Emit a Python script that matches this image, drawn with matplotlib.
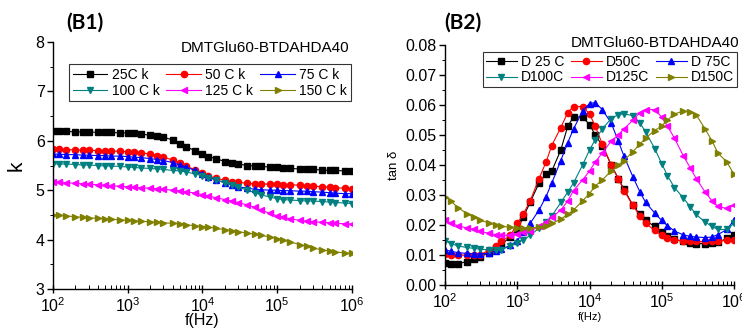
import matplotlib.pyplot as plt
from matplotlib.ticker import LogLocator, MultipleLocator, NullFormatter

plt.rcParams['font.family'] = ['Liberation Sans', 'DejaVu Sans']

freq = [100, 120, 150, 200, 250, 300, 400, 500, 600, 800,
        1e3, 1.2e3, 1.5e3, 2e3, 2.5e3, 3e3, 4e3, 5e3, 6e3, 8e3,
        1e4, 1.2e4, 1.5e4, 2e4, 2.5e4, 3e4, 4e4, 5e4, 6e4, 8e4,
        1e5, 1.2e5, 1.5e5, 2e5, 2.5e5, 3e5, 4e5, 5e5, 6e5, 8e5,
        1e6]

# (B1) dielectric constant k
k_25 = [6.20, 6.19, 6.19, 6.18, 6.18, 6.18, 6.17, 6.17, 6.17, 6.16,
        6.16, 6.15, 6.14, 6.11, 6.09, 6.07, 6.02, 5.94, 5.88, 5.80,
        5.73, 5.68, 5.64, 5.58, 5.55, 5.53, 5.50, 5.49, 5.48, 5.47,
        5.46, 5.45, 5.44, 5.43, 5.42, 5.42, 5.41, 5.40, 5.40, 5.39,
        5.38]
k_50 = [5.83, 5.83, 5.82, 5.82, 5.81, 5.81, 5.80, 5.80, 5.79, 5.79,
        5.78, 5.77, 5.76, 5.73, 5.70, 5.67, 5.61, 5.55, 5.49, 5.41,
        5.34, 5.29, 5.24, 5.20, 5.17, 5.16, 5.14, 5.13, 5.13, 5.12,
        5.12, 5.11, 5.11, 5.10, 5.09, 5.08, 5.07, 5.06, 5.05, 5.04,
        5.03]
k_75 = [5.73, 5.73, 5.72, 5.72, 5.71, 5.71, 5.70, 5.70, 5.69, 5.69,
        5.68, 5.67, 5.66, 5.64, 5.62, 5.60, 5.56, 5.51, 5.47, 5.40,
        5.33, 5.27, 5.21, 5.15, 5.10, 5.07, 5.04, 5.02, 5.01, 5.00,
        5.00, 4.99, 4.99, 4.98, 4.98, 4.97, 4.96, 4.95, 4.94, 4.93,
        4.93]
k_100 = [5.54, 5.53, 5.53, 5.52, 5.51, 5.51, 5.50, 5.49, 5.49, 5.48,
         5.47, 5.46, 5.45, 5.44, 5.43, 5.42, 5.40, 5.39, 5.37, 5.33,
         5.29, 5.25, 5.21, 5.15, 5.10, 5.06, 5.00, 4.95, 4.91, 4.86,
         4.83, 4.81, 4.80, 4.79, 4.78, 4.78, 4.77, 4.76, 4.75, 4.74,
         4.73]
k_125 = [5.17, 5.16, 5.15, 5.14, 5.13, 5.12, 5.11, 5.10, 5.09, 5.08,
         5.07, 5.06, 5.05, 5.04, 5.03, 5.02, 5.00, 4.99, 4.97, 4.94,
         4.91, 4.88, 4.85, 4.81, 4.78, 4.75, 4.70, 4.65, 4.60, 4.53,
         4.48, 4.45, 4.42, 4.39, 4.37, 4.36, 4.35, 4.34, 4.33, 4.32,
         4.31]
k_150 = [4.50, 4.49, 4.48, 4.46, 4.45, 4.44, 4.43, 4.42, 4.41, 4.40,
         4.39, 4.38, 4.37, 4.36, 4.35, 4.34, 4.33, 4.32, 4.30, 4.28,
         4.26, 4.25, 4.23, 4.20, 4.18, 4.16, 4.13, 4.11, 4.09, 4.05,
         4.02, 3.99, 3.95, 3.90, 3.86, 3.83, 3.79, 3.77, 3.75, 3.73,
         3.72]

# (B2) loss tangent
d_25 = [.0072, .0071, .0071, .0078, .0085, .0093, .0108, .0122, .0135, .0160,
        .0185, .0225, .0275, .0340, .0370, .0380, .0450, .0530, .0560, .0560,
        .0535, .0500, .0465, .0400, .0355, .0320, .0265, .0235, .0215, .0195,
        .0175, .0162, .0152, .0145, .0140, .0138, .0138, .0140, .0142, .0155,
        .0165]
d_50 = [.0103, .0101, .0100, .0099, .0099, .0100, .0115, .0130, .0145, .0165,
        .0205, .0235, .0280, .0355, .0410, .0465, .0525, .0575, .0595, .0595,
        .0570, .0530, .0470, .0400, .0355, .0315, .0265, .0230, .0205, .0182,
        .0165, .0158, .0150, .0147, .0145, .0145, .0145, .0146, .0147, .0149,
        .0150]
d_75 = [.0118, .0112, .0108, .0105, .0104, .0103, .0106, .0112, .0120, .0132,
        .0148, .0175, .0205, .0250, .0295, .0340, .0415, .0475, .0520, .0580,
        .0605, .0608, .0585, .0540, .0480, .0430, .0360, .0310, .0275, .0240,
        .0215, .0198, .0180, .0167, .0162, .0160, .0158, .0160, .0168, .0185,
        .0215]
d_100 = [.0148, .0138, .0130, .0125, .0122, .0120, .0117, .0115, .0118, .0130,
         .0140, .0150, .0165, .0190, .0210, .0230, .0275, .0310, .0340, .0400,
         .0450, .0485, .0520, .0555, .0568, .0570, .0565, .0540, .0510, .0455,
         .0405, .0365, .0325, .0290, .0260, .0235, .0210, .0195, .0185, .0185,
         .0205]
d_125 = [.0215, .0205, .0198, .0190, .0185, .0180, .0172, .0168, .0166, .0165,
         .0170, .0175, .0180, .0195, .0210, .0225, .0250, .0280, .0315, .0350,
         .0380, .0410, .0440, .0480, .0500, .0520, .0550, .0575, .0585, .0585,
         .0560, .0530, .0490, .0430, .0390, .0355, .0310, .0280, .0262, .0255,
         .0265]
d_150 = [.0295, .0280, .0258, .0238, .0225, .0217, .0207, .0200, .0196, .0192,
         .0190, .0190, .0190, .0193, .0198, .0205, .0220, .0235, .0250, .0280,
         .0305, .0330, .0350, .0380, .0400, .0415, .0445, .0470, .0490, .0515,
         .0530, .0550, .0570, .0580, .0578, .0568, .0520, .0480, .0440, .0410,
         .0370]

k_labels = ["25C k", "50 C k", "75 C k", "100 C k", "125 C k", "150 C k"]
d_labels = ["D 25 C", "D50C", "D 75C", "D100C", "D125C", "D150C"]
colors = ["#000000", "#ff0000", "#0000ff", "#008080", "#ff00ff", "#808000"]
markers = ["s", "o", "^", "v", "<", ">"]

sample = "DMTGlu60-BTDAHDA40"


def style_axis(ax):
    ax.set_xscale("log")
    ax.set_xlim(100, 1e6)
    ax.spines["top"].set_visible(False)
    ax.spines["right"].set_visible(False)
    ax.xaxis.set_major_locator(LogLocator(base=10, numticks=10))
    ax.xaxis.set_minor_locator(LogLocator(base=10, subs=range(2, 10), numticks=20))
    ax.xaxis.set_minor_formatter(NullFormatter())
    ax.tick_params(axis="x", which="major", direction="inout", length=6, width=1)
    ax.tick_params(axis="x", which="minor", direction="in", length=3, width=0.7)
    ax.tick_params(axis="y", which="major", direction="out", length=4, width=1)
    ax.tick_params(axis="y", which="minor", direction="out", length=2, width=0.7)
    for s in ["left", "bottom"]:
        ax.spines[s].set_linewidth(1.0)


def legend_order(handles, labels):
    # ncol=3 fills columns first, reorder so rows read 1-2-3 / 4-5-6
    idx = [0, 3, 1, 4, 2, 5]
    return [handles[i] for i in idx], [labels[i] for i in idx]


fig = plt.figure(figsize=(7.42, 3.31), dpi=100)

# ---------- (B1) ----------
ax1 = fig.add_axes([0.0714, 0.127, 0.403, 0.746])
k_series = [k_25, k_50, k_75, k_100, k_125, k_150]
for y, lab, c, m in zip(k_series, k_labels, colors, markers):
    ax1.plot(freq, y, color=c, marker=m, markersize=4.5, linewidth=0.8, label=lab)
style_axis(ax1)
ax1.set_ylim(3, 8)
ax1.yaxis.set_major_locator(MultipleLocator(1))
ax1.yaxis.set_minor_locator(MultipleLocator(0.5))
ax1.tick_params(axis="both", which="major", labelsize=11.5, pad=2)
ax1.set_xlabel("f(Hz)", fontsize=11.5, labelpad=-1)
ax1.set_ylabel("k", fontsize=15, labelpad=7)
ax1.text(0.99, 0.975, sample, transform=ax1.transAxes, ha="right", va="center", fontsize=11)
h, l = legend_order(*ax1.get_legend_handles_labels())
leg1 = ax1.legend(h, l, ncol=3, loc="upper right", bbox_to_anchor=(0.995, 0.91),
                  fontsize=10, frameon=True, fancybox=False, edgecolor="black",
                  handlelength=2.5, handletextpad=0.3, columnspacing=0.5,
                  borderpad=0.25, labelspacing=0.15, borderaxespad=0)
leg1.get_frame().set_linewidth(0.8)

# ---------- (B2) ----------
ax2 = fig.add_axes([0.600, 0.139, 0.389, 0.725])
d_series = [d_25, d_50, d_75, d_100, d_125, d_150]
for y, lab, c, m in zip(d_series, d_labels, colors, markers):
    ax2.plot(freq, y, color=c, marker=m, markersize=4.5, linewidth=0.8, label=lab)
style_axis(ax2)
ax2.set_ylim(0, 0.08)
ax2.yaxis.set_major_locator(MultipleLocator(0.01))
ax2.yaxis.set_minor_locator(MultipleLocator(0.005))
ax2.yaxis.set_major_formatter(plt.FormatStrFormatter("%.2f"))
ax2.tick_params(axis="both", which="major", labelsize=11.5, pad=2)
ax2.set_xlabel("f(Hz)", fontsize=8, labelpad=1)
ax2.set_ylabel("tan \u03b4", fontsize=9.5, labelpad=4)
ax2.text(1.02, 1.01, sample, transform=ax2.transAxes, ha="right", va="center", fontsize=11)
h, l = legend_order(*ax2.get_legend_handles_labels())
leg2 = ax2.legend(h, l, ncol=3, loc="upper right", bbox_to_anchor=(1.01, 0.97),
                  fontsize=10, frameon=True, fancybox=False, edgecolor="black",
                  handlelength=2.2, handletextpad=0.3, columnspacing=0.5,
                  borderpad=0.2, labelspacing=0.1, borderaxespad=0)
leg2.get_frame().set_linewidth(0.8)

# panel tags
fig.text(0.115, 0.933, "(B1)", fontsize=15, fontweight="bold", family=["Lato", "DejaVu Sans"],
         ha="center", va="center")
fig.text(0.624, 0.933, "(B2)", fontsize=15, fontweight="bold", family=["Lato", "DejaVu Sans"],
         ha="center", va="center")

fig.savefig("out.png", dpi=100)
plt.close()
